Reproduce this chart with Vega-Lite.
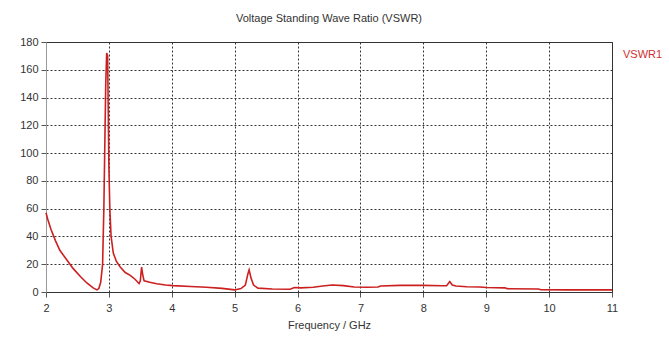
{
  "$schema": "https://vega.github.io/schema/vega-lite/v6.json",
  "width": 566,
  "height": 250,
  "autosize": {"type": "none"},
  "padding": {"left": 46, "top": 42, "right": 57, "bottom": 53},
  "background": "white",
  "title": {
    "text": "Voltage Standing Wave Ratio (VSWR)",
    "font": "Liberation Sans",
    "fontSize": 11,
    "fontWeight": "normal",
    "color": "#333333",
    "offset": 12
  },
  "config": {
    "view": {"stroke": "#333333", "strokeWidth": 1},
    "font": "Liberation Sans"
  },
  "data": {
    "values": [
      {"f": 2.00, "v": 57}, {"f": 2.03, "v": 52}, {"f": 2.08, "v": 45}, {"f": 2.15, "v": 37},
      {"f": 2.22, "v": 30}, {"f": 2.30, "v": 25}, {"f": 2.43, "v": 17}, {"f": 2.55, "v": 11},
      {"f": 2.65, "v": 6.5}, {"f": 2.75, "v": 3}, {"f": 2.81, "v": 1.5}, {"f": 2.84, "v": 2.5},
      {"f": 2.87, "v": 7}, {"f": 2.90, "v": 20}, {"f": 2.92, "v": 60}, {"f": 2.935, "v": 105},
      {"f": 2.95, "v": 150}, {"f": 2.965, "v": 172}, {"f": 2.98, "v": 170}, {"f": 2.99, "v": 130},
      {"f": 3.0, "v": 90}, {"f": 3.015, "v": 60}, {"f": 3.035, "v": 40}, {"f": 3.07, "v": 28},
      {"f": 3.12, "v": 22}, {"f": 3.18, "v": 18}, {"f": 3.26, "v": 14}, {"f": 3.34, "v": 12},
      {"f": 3.42, "v": 9}, {"f": 3.48, "v": 6}, {"f": 3.50, "v": 8}, {"f": 3.52, "v": 18},
      {"f": 3.54, "v": 12}, {"f": 3.56, "v": 8}, {"f": 3.65, "v": 7}, {"f": 3.76, "v": 6},
      {"f": 3.9, "v": 5}, {"f": 4.02, "v": 4.6}, {"f": 4.3, "v": 4}, {"f": 4.55, "v": 3.4},
      {"f": 4.8, "v": 2.6}, {"f": 5.0, "v": 1.5}, {"f": 5.1, "v": 2.5}, {"f": 5.17, "v": 5},
      {"f": 5.21, "v": 13}, {"f": 5.23, "v": 16}, {"f": 5.26, "v": 10}, {"f": 5.3, "v": 5},
      {"f": 5.37, "v": 2.8}, {"f": 5.6, "v": 2.2}, {"f": 5.88, "v": 2}, {"f": 5.95, "v": 3.2},
      {"f": 6.05, "v": 3}, {"f": 6.25, "v": 3.4}, {"f": 6.4, "v": 4.3}, {"f": 6.55, "v": 5},
      {"f": 6.73, "v": 4.6}, {"f": 6.9, "v": 3.6}, {"f": 7.1, "v": 3.4}, {"f": 7.28, "v": 3.6},
      {"f": 7.32, "v": 4.3}, {"f": 7.63, "v": 4.8}, {"f": 8.0, "v": 4.8}, {"f": 8.3, "v": 4.5},
      {"f": 8.37, "v": 4.5}, {"f": 8.42, "v": 7.5}, {"f": 8.46, "v": 5}, {"f": 8.52, "v": 4.3},
      {"f": 8.69, "v": 3.8}, {"f": 8.9, "v": 3.6}, {"f": 9.0, "v": 3.2}, {"f": 9.3, "v": 3.0},
      {"f": 9.33, "v": 2.4}, {"f": 9.83, "v": 2.2}, {"f": 9.87, "v": 1.6}, {"f": 10.3, "v": 1.5},
      {"f": 11, "v": 1.5}
    ]
  },
  "mark": {"type": "line", "strokeWidth": 1.6, "interpolate": "linear"},
  "encoding": {
    "x": {
      "field": "f", "type": "quantitative",
      "scale": {"domain": [2, 11], "nice": false},
      "axis": {
        "title": "Frequency / GHz",
        "titleFont": "Liberation Sans", "titleFontSize": 11, "titleFontWeight": "normal",
        "titleColor": "#333333", "titlePadding": 6,
        "values": [2, 3, 4, 5, 6, 7, 8, 9, 10, 11],
        "labelFont": "Liberation Sans", "labelFontSize": 11, "labelColor": "#333333",
        "labelPadding": 5, "labelFlush": false,
        "tickSize": 5, "tickColor": "#555555", "domainColor": "#333333",
        "grid": true, "gridColor": "#333333", "gridDash": [2, 2], "gridWidth": 1
      }
    },
    "y": {
      "field": "v", "type": "quantitative",
      "scale": {"domain": [0, 180], "nice": false},
      "axis": {
        "title": null,
        "values": [0, 20, 40, 60, 80, 100, 120, 140, 160, 180],
        "labelFont": "Liberation Sans", "labelFontSize": 11, "labelColor": "#333333",
        "labelPadding": 3,
        "tickSize": 5, "tickColor": "#555555", "domainColor": "#999999",
        "grid": true, "gridColor": "#333333", "gridDash": [2, 2], "gridWidth": 1
      }
    },
    "color": {
      "datum": "VSWR1",
      "scale": {"range": ["#cc1f1f"]},
      "legend": {
        "title": null,
        "orient": "none", "legendX": 566, "legendY": 7,
        "symbolOpacity": 0, "symbolSize": 0, "symbolStrokeWidth": 0,
        "labelColor": "#d03030", "labelFont": "Liberation Sans", "labelFontSize": 11,
        "labelOffset": 0
      }
    }
  }
}
